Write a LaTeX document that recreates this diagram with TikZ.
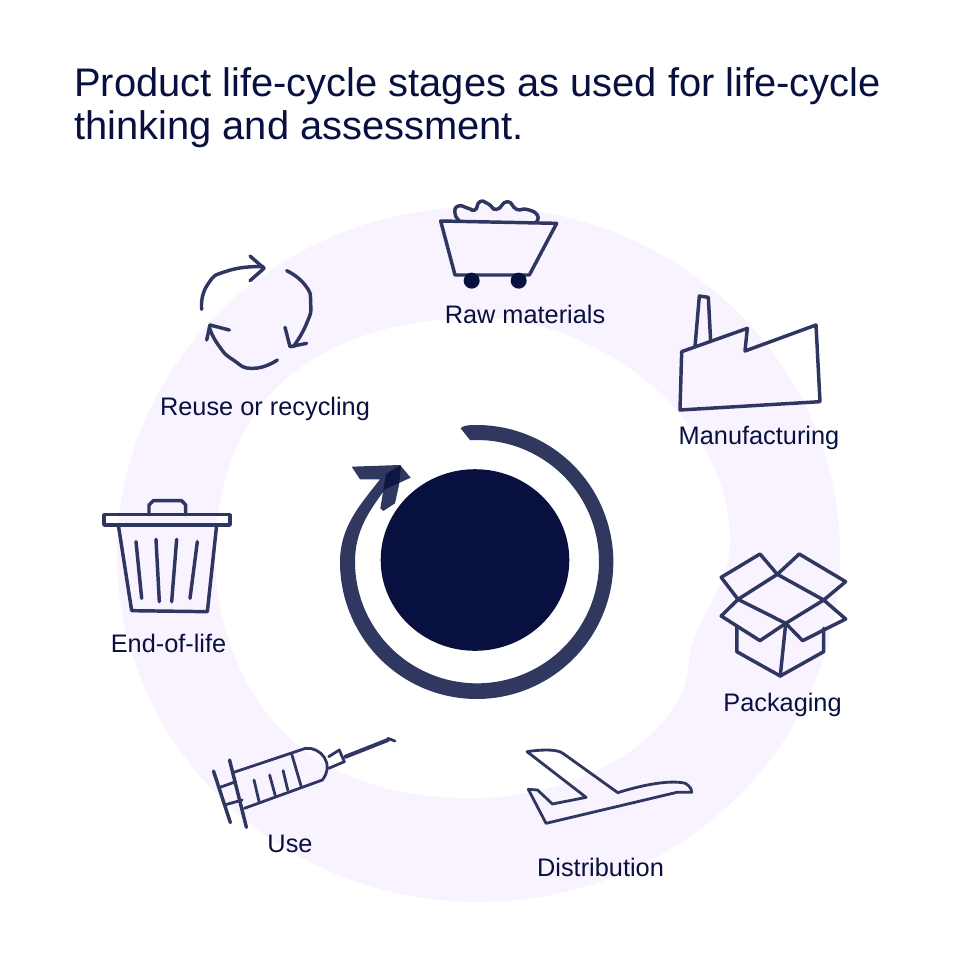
\documentclass[tikz,border=0pt]{standalone}
\usepackage{fontspec}
\setmainfont{Liberation Sans}
\definecolor{ink}{HTML}{08103F}
\definecolor{stroke}{HTML}{2F3660}
\definecolor{pale}{HTML}{F8F3FE}
\tikzset{
  x=0.75pt,y=-0.75pt,
  label/.style={anchor=base,inner sep=0pt,text=ink,font=\fontsize{19pt}{22pt}\selectfont},
  icon/.style={draw=stroke,line width=2.6pt,line cap=round,line join=round},
  thin icon/.style={draw=stroke,line width=2.1pt,line cap=round,line join=round},
  zt/.style={x=0.25pt,y=-0.25pt},
  zw/.style={x=0.3165pt,y=-0.25pt}
}
\begin{document}
\begin{tikzpicture}
\useasboundingbox (0,0) rectangle (960,957);
\fill[white] (0,0) rectangle (960,957);
% pale ring
\fill[pale] (478.5,554.5) ellipse [x radius=361.5,y radius=347.5];
\fill[white] (478,318) .. controls (600,318) and (730,420) .. (730,540) .. controls (730,590) and (690,625) .. (689,660) .. controls (688,730) and (590,798) .. (471,798) .. controls (330,798) and (240,730) .. (217,590) .. controls (208,490) and (240,410) .. (300,368) .. controls (345,335) and (410,318) .. (478,318) -- cycle;
% title
\node (title) [anchor=north west,inner sep=0pt,text=ink,align=left,font=\fontsize{29.9pt}{32.25pt}\selectfont] at (74,67) {Product life-cycle stages as used for life-cycle\\thinking and assessment.};
% centre
\fill[ink] (475,560) ellipse [x radius=94.3,y radius=90.8];
% cycle arrow
\begin{scope}[shift={(330,410)},zt]
\fill[ink,opacity=.83] (392,55) .. controls (396,48) and (410,45) .. (440,45) -- plot[domain=90:-180,samples=90,smooth] ({440+410*cos(\x)},{456-411*sin(\x)}) .. controls (30,350) and (90,285) .. (150,208) -- (90,208) -- (65,170) -- (210,165) -- (242,203) -- (165,238) .. controls (120,300) and (75,360) .. (75,455) -- plot[domain=-180:90,samples=90,smooth] ({441+366*cos(\x)},{455-365*sin(\x)}) -- (420,90) -- cycle;
\fill[ink,opacity=.83] (213,165) -- (168,192) -- (151,295) -- (160,303) -- (195,280) -- (207,225) -- cycle;
\end{scope}
% raw materials cart
\begin{scope}[shift={(420,190)},zt]
\draw[icon] (62,93) -- (410,100) -- (328,255) -- (105,255) -- cycle;
\fill[ink] (155,272) circle [radius=24];
\fill[ink] (296,272) circle [radius=24];
\draw[icon] plot[smooth,tension=1] coordinates {(118,93) (105,70) (115,48) (145,55) (165,60) (180,35) (205,42) (230,58) (262,35) (290,58) (320,58) (352,75) (348,97)};
% factory
\draw[icon] (780,660) -- (1200,635) -- (1188,405) -- (975,483) -- (982,415) -- (785,485) -- cycle;
\draw[icon] (825,470) -- (838,318) -- (865,322) -- (872,455);
\end{scope}
% recycling and bin
\begin{scope}[shift={(90,240)},zt]
\draw[icon] plot[smooth,tension=1] coordinates {(335,208) (352,135) (415,92) (520,80)};
\draw[icon] (480,48) -- (522,85) -- (480,122);
\draw[icon] plot[smooth,tension=1] coordinates {(590,92) (645,135) (662,190) (650,250) (610,320)};
\draw[icon] (585,262) -- (600,320) -- (650,310);
\draw[icon] plot[smooth,tension=1] coordinates {(562,360) (490,385) (430,360) (385,315) (358,262)};
\draw[icon] (350,300) -- (360,255) -- (418,270);
% bin
\draw[icon] (42,824) rectangle (420,855);
\draw[icon] (177,824) -- (177,795) -- (190,782) -- (275,782) -- (287,795) -- (287,824);
\draw[icon] (85,855) -- (125,1112) -- (352,1115) -- (380,855);
\draw[icon] (138,905) -- (155,1075);
\draw[icon] (198,898) -- (208,1085);
\draw[icon] (260,898) -- (245,1085);
\draw[icon] (322,905) -- (300,1075);
\end{scope}
% lower icons
\begin{scope}[shift={(200,540)},zw]
% syringe
\draw[thin icon] (80,697) -- (250,625) .. controls (285,620) and (320,670) .. (290,720) -- (105,805);
\draw[thin icon] (218,645) -- (240,740);
\draw[thin icon] (128,720) -- (140,785);
\draw[thin icon] (165,705) -- (178,765);
\draw[thin icon] (197,692) -- (208,750);
\draw[icon] (70,660) -- (110,862);
\draw[icon] (32,693) -- (72,848);
\draw[thin icon] (45,743) -- (85,725);
\draw[thin icon] (58,795) -- (100,780);
\draw[thin icon] (305,650) -- (330,630) -- (342,665) -- (305,685);
\draw[icon,line width=3pt] (345,650) -- (445,600);
\draw[thin icon] (445,595) -- (462,603);
% plane
\draw[thin icon] (775,635) .. controls (800,630) and (845,625) .. (860,640) -- (990,758) .. controls (1060,730) and (1120,720) .. (1150,730) .. controls (1160,738) and (1165,745) .. (1165,757) -- (1130,757) -- (820,850) -- (778,748) -- (800,750) -- (835,792) -- (915,772) -- cycle;
% box
\draw[icon] (1368,103) -- (1478,180) -- (1388,250) -- (1275,178) -- cycle;
\draw[icon] (1275,178) -- (1235,112) -- (1327,42) -- (1368,103);
\draw[icon] (1368,103) -- (1420,42) -- (1530,125) -- (1478,180);
\draw[icon] (1275,178) -- (1235,228) -- (1327,302) -- (1388,250);
\draw[icon] (1478,180) -- (1530,237) -- (1428,302) -- (1388,250);
\draw[icon] (1272,262) -- (1272,335) -- (1375,408) -- (1478,335) -- (1478,265);
\draw[icon] (1388,250) -- (1375,408);
\end{scope}
% labels
\node (raw) [label] at (525,323) {Raw materials};
\node (man) [label] at (759,444) {Manufacturing};
\node (pack) [label] at (782.5,711) {Packaging};
\node (dist) [label] at (600.5,876) {Distribution};
\node (use) [label] at (290,852) {Use};
\node (eol) [label] at (168.5,652) {End-of-life};
\node (reuse) [label] at (265,415) {Reuse or recycling};
\end{tikzpicture}
\end{document}
